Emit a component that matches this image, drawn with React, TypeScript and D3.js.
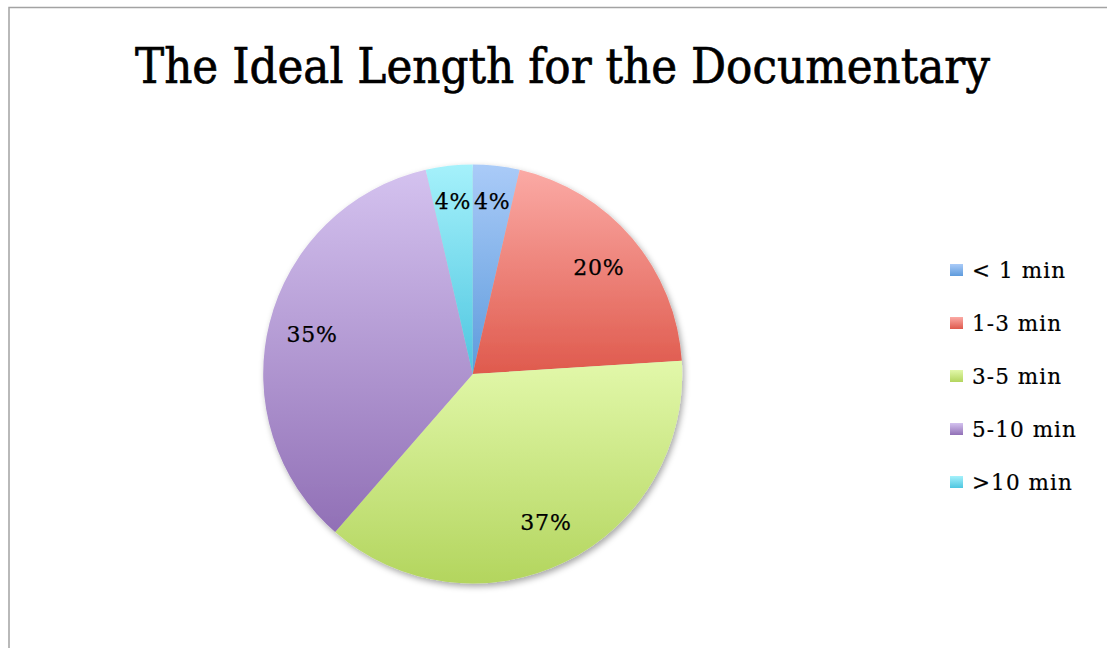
import React from "react";
import * as d3 from "d3";

const categories = ["< 1 min", "1-3 min", "3-5 min", "5-10 min", ">10 min"];
const values = [3.6, 20.4, 37.4, 35.0, 3.6];
const colorTop = ["#aacbf8", "#fbaaa5", "#e2f8aa", "#d4c2ef", "#a5f1fb"];
const colorBottom = ["#5e9bdc", "#df5a4d", "#b3d55e", "#9170b6", "#4ec6e0"];
const title = "The Ideal Length for the Documentary";

const W = 1107;
const H = 648;
const cx = 472.7;
const cy = 374;
const R = 209.5;
const FONT = "'DejaVu Serif', serif";

export default function App() {
  const total = d3.sum(values);
  const pie = d3.pie<number>().sort(null).value((d) => d);
  const arcs = pie(values);
  const arc = d3.arc<d3.PieArcDatum<number>>().innerRadius(0).outerRadius(R);
  const fmt = d3.format(".0%");
  const legendY = d3.scalePoint<string>().domain(categories).range([270, 482]);

  return (
    <svg
      width={W}
      height={H}
      style={{ position: "absolute", left: 0, top: 0, background: "#fff" }}
    >
      <defs>
        {categories.map((c, i) => (
          <linearGradient key={c} id={`g${i}`} x1="0" y1="0" x2="0" y2="1">
            <stop offset="0" stopColor={colorTop[i]} />
            <stop offset="1" stopColor={colorBottom[i]} />
          </linearGradient>
        ))}
        <filter id="shadow" x="-20%" y="-20%" width="140%" height="140%">
          <feDropShadow dx="2" dy="3" stdDeviation="3" floodColor="#000" floodOpacity="0.35" />
        </filter>
      </defs>
      <rect x={9} y={7.5} width={1300} height={1000} fill="#fff" stroke="#a3a3a3" strokeWidth={1.5} />
      <text
        x={562.5}
        y={83}
        textAnchor="middle"
        fontFamily={FONT}
        fontSize={48}
        textLength={855}
        lengthAdjust="spacingAndGlyphs"
        fill="#000"
        stroke="#000"
        strokeWidth={0.7}
      >
        {title}
      </text>
      <g transform={`translate(${cx},${cy})`}>
        <g filter="url(#shadow)">
          {arcs.map((a, i) => (
            <path key={i} d={arc(a) || ""} fill={`url(#g${i})`} />
          ))}
        </g>
        {arcs.map((a, i) => {
          const mid = (a.startAngle + a.endAngle) / 2;
          const rr = a.value / total < 0.06 ? R * 0.83 : R * 0.79;
          const x = Math.sin(mid) * rr;
          const y = -Math.cos(mid) * rr;
          return (
            <text
              key={i}
              x={x}
              y={y}
              dy="0.36em"
              textAnchor="middle"
              fontFamily={FONT}
              fontSize={22}
              letterSpacing={0.8}
              fill="#000"
              stroke="#000"
              strokeWidth={0.25}
            >
              {fmt(a.value / total)}
            </text>
          );
        })}
      </g>
      {categories.map((c, i) => {
        const y = legendY(c) as number;
        return (
          <g key={c}>
            <rect x={950} y={y - 6} width={13} height={12} fill={`url(#g${i})`} />
            <text
              x={972}
              y={y}
              dy="0.36em"
              fontFamily={FONT}
              fontSize={21.5}
              letterSpacing={1.1}
              fill="#000"
              stroke="#000"
              strokeWidth={0.2}
            >
              {c}
            </text>
          </g>
        );
      })}
    </svg>
  );
}
